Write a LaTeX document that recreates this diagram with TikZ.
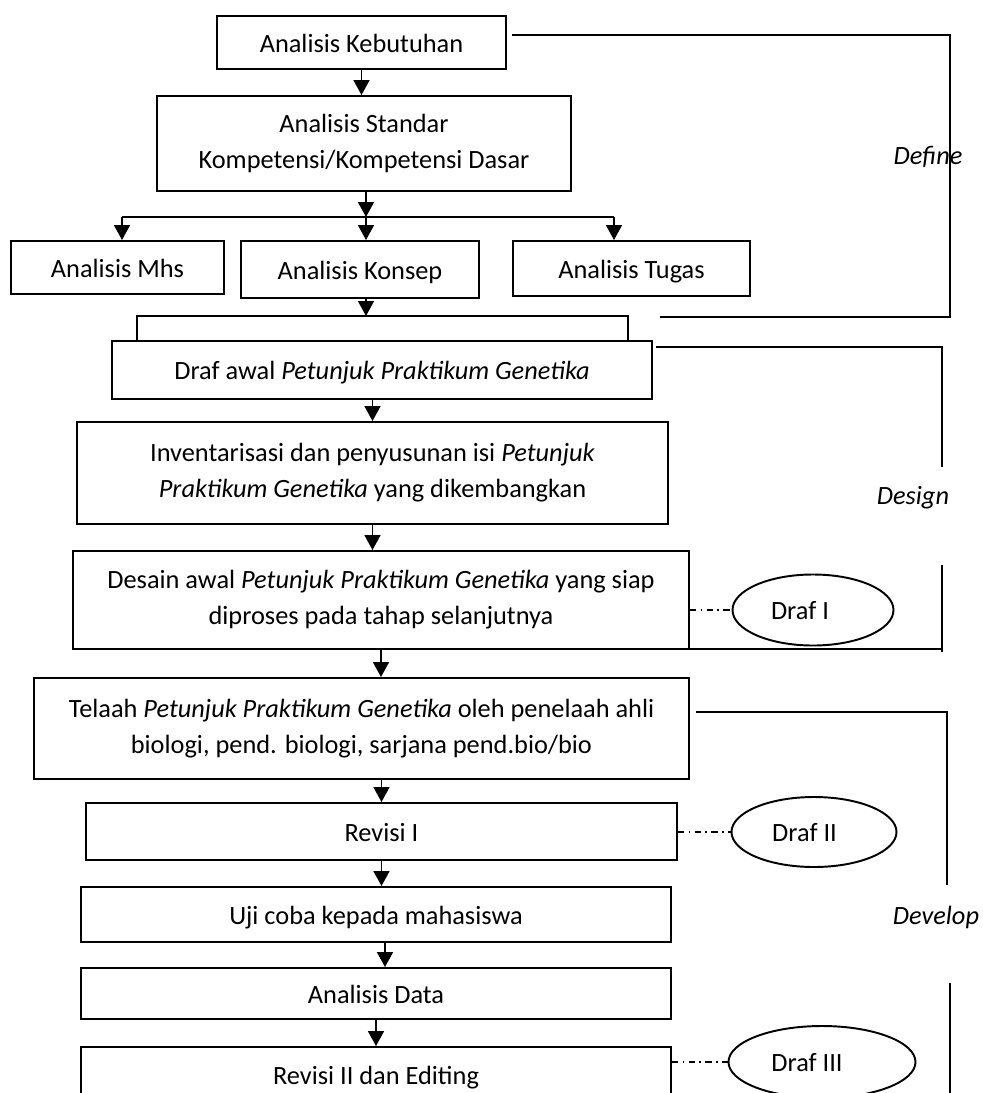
\documentclass[tikz,border=0pt]{standalone}
\usepackage{fontspec}
\setmainfont{Carlito}
\usetikzlibrary{arrows.meta,shapes.geometric}

\tikzset{
	kotak/.style 2 args={draw, line width=1.1pt, inner sep=0pt, align=center,
		minimum width=#1*0.02cm, minimum height=#2*0.02cm},
	sebaris/.style={text height=11.4pt, text depth=0.4pt},
	elips/.style 2 args={draw, ellipse, line width=1.1pt, inner sep=0pt, sebaris,
		minimum width=#1*0.02cm, minimum height=#2*0.02cm},
	panah/.style={line width=1.1pt, -{Triangle[width=9pt,length=8.5pt]}},
	garis/.style={line width=1.1pt},
	putus/.style={line width=0.9pt, dash pattern=on 3.5pt off 2.5pt on 1pt off 2.5pt},
	fase/.style={font=\fontsize{15}{20.4}\selectfont\itshape, inner sep=0pt}
}

\begin{document}
\begin{tikzpicture}[x=0.02cm, y=-0.02cm, font=\fontsize{15}{20.4}\selectfont]
		%%%%% START %%%%%
		\useasboundingbox (0, 0) rectangle (983, 1093);
		\clip (0, 0) rectangle (983, 1093);
		
		% define
		\node[kotak={289}{53}, sebaris] (keb) at (361.5, 42.5) {Analisis Kebutuhan};
		\node[kotak={414}{95}] (std) at (364, 143.5) {Analisis Standar\\Kompetensi/Kompetensi Dasar};
		\node[kotak={213}{53}, sebaris] (mhs) at (117.5, 267.5) {Analisis Mhs};
		\node[kotak={238}{57}, sebaris] (konsep) at (360, 269.5) {Analisis Konsep};
		\node[kotak={237}{55}, sebaris] (tugas) at (631.5, 268.5) {Analisis Tugas};
		
		\coordinate (br) at (366, 217);
		\coordinate (brL) at (122, 217);
		\coordinate (brR) at (614, 217);
		\draw[panah] (std.south -| br) -- (br);
		\draw[garis] (brL) -- (brR);
		\draw[panah] (brL) -- (brL |- mhs.north);
		\draw[panah] (br) -- (br |- konsep.north);
		\draw[panah] (brR) -- (brR |- tugas.north);
		\draw[panah] (keb.south) -- (keb.south |- std.north);
		
		% design
		\node[kotak={540}{58}, sebaris] (drafawal) at (382, 370) {Draf awal \textit{Petunjuk Praktikum Genetika}};
		\node[kotak={591}{102}] (inv) at (372.5, 473) {Inventarisasi dan penyusunan isi \textit{Petunjuk}\\\textit{Praktikum Genetika} yang dikembangkan};
		\node[kotak={616}{98}] (desain) at (381, 600) {Desain awal \textit{Petunjuk Praktikum Genetika} yang siap\\diproses pada tahap selanjutnya};
		
		\coordinate (kL) at (137, 316);
		\coordinate (kR) at (628, 316);
		\draw[panah] (konsep.south -| br) -- (br |- kL);
		\draw[garis] (kL |- drafawal.north) -- (kL) -- (kR) -- (kR |- drafawal.north);
		\draw[panah] (drafawal.south -| inv.north) -- (inv.north);
		\draw[panah] (inv.south) -- (inv.south |- desain.north);
		
		% develop
		\node[kotak={655}{101}] (telaah) at (361.5, 728.5) {Telaah \textit{Petunjuk Praktikum Genetika} oleh penelaah ahli\\biologi, pend. biologi, sarjana pend.bio/bio};
		\node[kotak={591}{57}, sebaris] (rev1) at (381.5, 831.5) {Revisi I};
		\node[kotak={590}{55}, sebaris] (uji) at (376, 914.5) {Uji coba kepada mahasiswa};
		\node[kotak={590}{51}, sebaris] (data) at (376, 993.5) {Analisis Data};
		\node[kotak={590}{56}, sebaris] (rev2) at (376, 1075) {Revisi II dan Editing};
		
		\draw[panah] (desain.south) -- (desain.south |- telaah.north);
		\draw[panah] (rev1.north |- telaah.south) -- (rev1.north);
		\draw[panah] (rev1.south) -- (rev1.south |- uji.north);
		\draw[panah] ([xshift=0.18cm]uji.south) -- ([xshift=0.18cm]data.north);
		\draw[panah] (data.south) -- (rev2.north);
		
		% draf
		\node[elips={161}{71}] (draf1) at (813, 610) {Draf I\hspace*{0.52cm}};
		\node[elips={165}{70}] (draf2) at (814, 832) {Draf II\hspace*{0.38cm}};
		\node[elips={187}{72}] (draf3) at (822, 1062) {Draf III\hspace*{0.6cm}};
		\draw[putus] (desain.east |- draf1.west) -- (draf1.west);
		\draw[putus] (rev1.east |- draf2.west) -- (draf2.west);
		\draw[putus] (rev2.east |- draf3.west) -- (draf3.west);
		
		% tahap
		\draw[garis] (512, 35) -- (950, 35) -- (950, 317) -- (660, 317);
		\node[fase] (define) at (928, 157) {Define};
		
		\draw[garis] (656, 347) -- (942, 347) -- (942, 467);
		\draw[garis] (942, 565) -- (942, 652);
		\draw[garis] (652, 649) -- (942, 649);
		\node[fase] (design) at (913, 498) {Design};
		
		\draw[garis] (696, 712) -- (947, 712) -- (947, 885);
		\node[fase] (develop) at (936, 917) {Develop};
		\draw[garis] (950, 983) -- (950, 1100);
		
		%%%%% END %%%%%
	\end{tikzpicture}
\end{document}
